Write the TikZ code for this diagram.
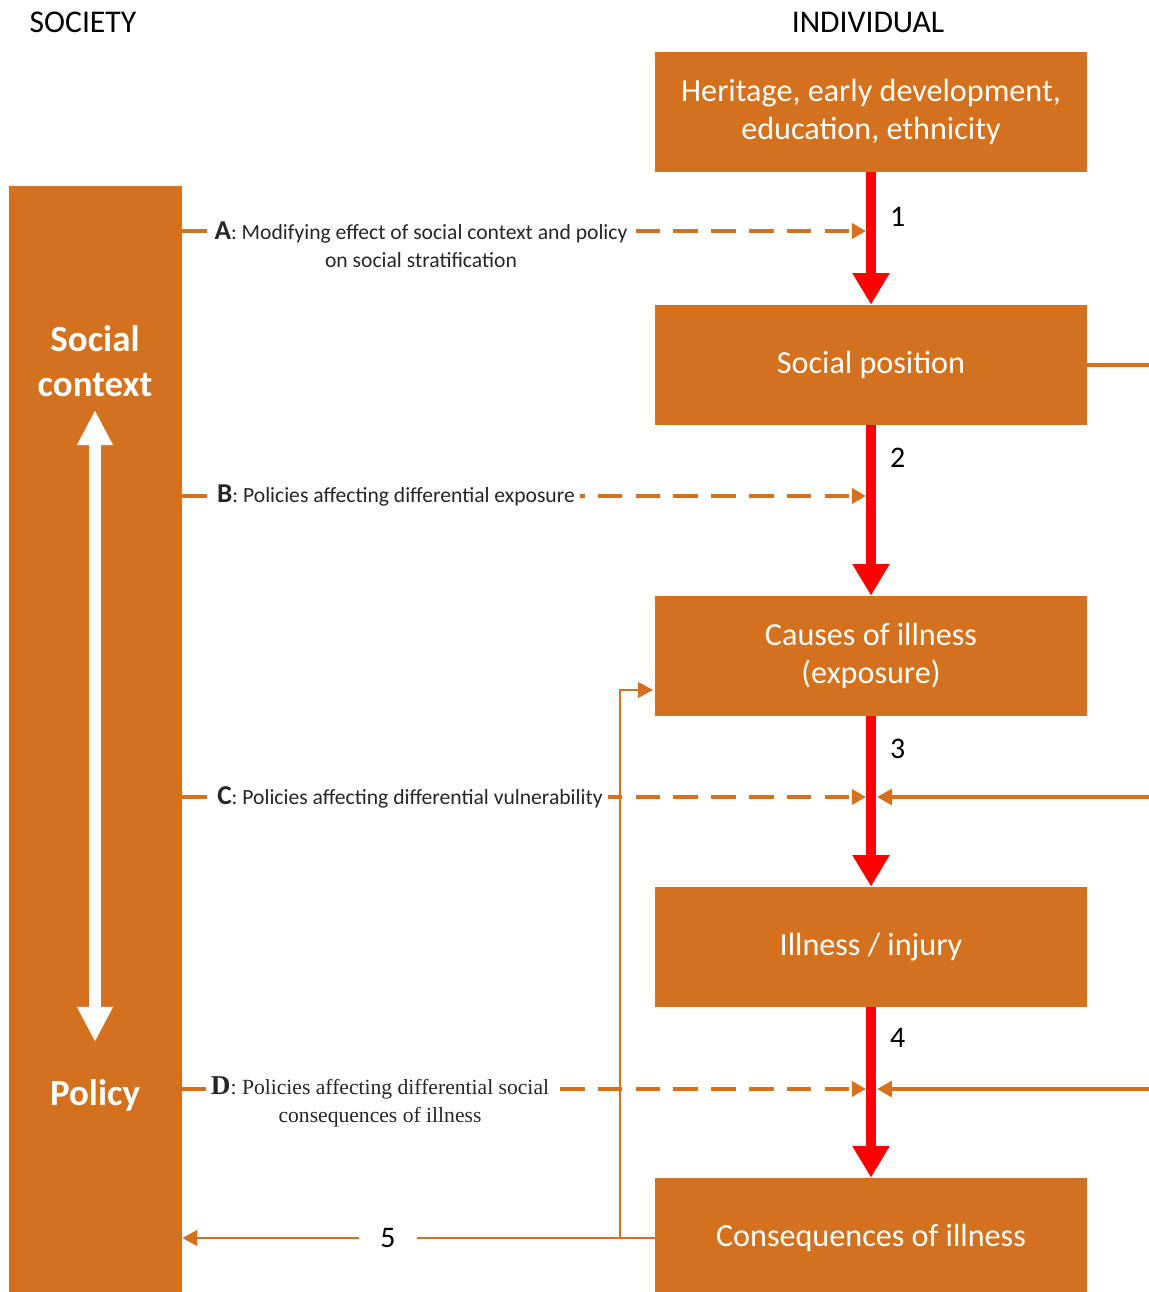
\documentclass[tikz,border=0pt]{standalone}
\usepackage{fontspec}
\setmainfont{Carlito}
\newfontfamily\timesfont{Liberation Serif}
\usetikzlibrary{arrows.meta}
\definecolor{rust}{HTML}{D3711E}

\begin{document}
\begin{tikzpicture}[x=0.02cm, y=-0.02cm,
  box/.style={ fill=rust, text=white, minimum width=8.64cm,
    minimum height=2.4cm, inner sep=0pt, align=center,
    font=\fontsize{18.3}{22}\selectfont },
  causal/.style={ red, line width=6.2pt, -{Triangle[width=20pt,length=18pt]} },
  policy/.style={ rust, line width=2pt, dash pattern=on 14pt off 7.5pt,
    -{Triangle[width=8.5pt,length=8pt]} },
  feed/.style={ rust, line width=2pt, -{Triangle[width=9pt,length=8.5pt]} },
  thinfeed/.style={ rust, line width=0.9pt, -{Triangle[width=9pt,length=8.5pt]} },
  num/.style={ text=black, font=\fontsize{17}{20}\selectfont },
  note/.style={ fill=white, inner sep=3pt, align=center, text=black!85 },
  heading/.style={ font=\fontsize{18}{22}\selectfont } ]
  \useasboundingbox (0,0) rectangle (1149,1292);
  \node[heading] (society) at (83,22) {SOCIETY};
  \node[heading] (individual) at (868,22) {INDIVIDUAL};
  \node[fill=rust, minimum width=3.46cm, minimum height=22.2cm, inner sep=0pt]
    (bar) at (95.5,741) {};
  \node[text=white, align=center, font=\bfseries\fontsize{21}{25.5}\selectfont]
    (context) at (95,361) {Social\\context};
  \node[text=white, font=\bfseries\fontsize{21}{25}\selectfont]
    (policy) at (95,1095) {Policy};
  \coordinate (up) at (95,410);
  \coordinate (down) at (95,1042);
  \draw[white, line width=6.8pt, {Triangle[width=19pt,length=20pt]}-{Triangle[width=19pt,length=20pt]}]
    (up) -- (down);
  \foreach \n/\y/\t in {herit/112/{Heritage, early development,\\education, ethnicity},
    socpos/365/Social position, causes/656/{Causes of illness\\(exposure)},
    illness/947/{Illness / injury}, conseq/1238/Consequences of illness}
  \node[box] (\n) at (871,\y) {\t};
  \foreach \n/\y/\ty/\tx/\f/\t in {
    A/231/245/421/\relax/{{\fontsize{15.5}{16}\selectfont\bfseries A}: Modifying effect of social context and policy\\on social stratification},
    B/496/496/396/\relax/{{\fontsize{15.5}{16}\selectfont\bfseries B}: Policies affecting differential exposure},
    C/797/797/410/\relax/{{\fontsize{15.5}{16}\selectfont\bfseries C}: Policies affecting differential vulnerability},
    D/1089/1102/380/\timesfont/{{\fontsize{15.5}{16}\selectfont\bfseries D}: Policies affecting differential social\\consequences of illness}}
  {
    \coordinate (hit\n) at (866,\y);
    \draw[policy] (bar.east |- hit\n) -- (hit\n);
    \node[note, font=\f\fontsize{12.3}{16}\selectfont] (note\n) at (\tx,\ty) {\t};
  }
  \foreach \n/\y in {C/797,D/1089} {
    \coordinate (edge\n) at (1149,\y);
    \coordinate (meet\n) at (877,\y);
    \draw[feed] (edge\n) -- (meet\n);
  }
  \draw[rust, line width=2pt] (socpos.east) -- ++(62,0);
  \foreach \a/\b/\k/\p in {herit/socpos/1/0.34, socpos/causes/2/0.19,
    causes/illness/3/0.19, illness/conseq/4/0.18}
  \draw[causal] (\a) -- node[num, pos=\p, right=4.5pt] {\k} (\b);
  \coordinate (turn) at (620,1238);
  \coordinate (entry) at (653,690);
  \draw[thinfeed] (conseq.west) -- (turn) |- (entry);
  \draw[thinfeed] (turn) -- node[num, pos=0.53, fill=white, inner xsep=12pt,
    inner ysep=1pt] {5} (bar.east |- turn);
\end{tikzpicture}
\end{document}
